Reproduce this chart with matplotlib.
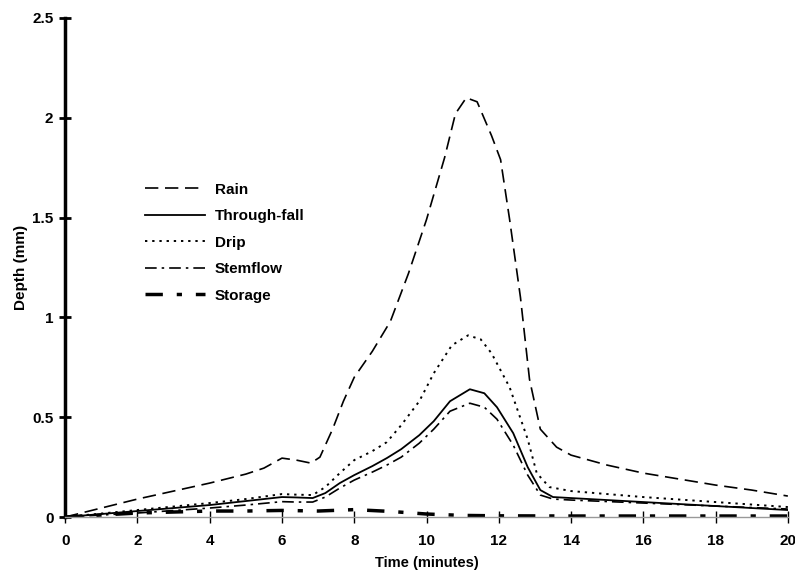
import matplotlib.pyplot as plt

plt.rcParams['font.family'] = ['Liberation Sans', 'DejaVu Sans']
plt.rcParams['font.weight'] = 'bold'

# Readings (time in minutes, depth in mm)
rain_t = [0, 1, 2, 3, 4, 5, 5.5, 6, 6.4, 6.8, 7.05, 7.4, 7.7, 8, 8.5, 9, 9.5, 10,
          10.5, 10.8, 11.1, 11.4, 11.8, 12.05, 12.3, 12.6, 12.85, 13.15, 13.6, 14,
          15, 16, 17, 18, 19, 20]
rain = [0, 0.045, 0.09, 0.13, 0.17, 0.215, 0.245, 0.295, 0.285, 0.27, 0.30, 0.44,
        0.58, 0.70, 0.83, 0.98, 1.22, 1.49, 1.80, 2.02, 2.10, 2.08, 1.91, 1.79, 1.49,
        1.10, 0.69, 0.44, 0.35, 0.31, 0.26, 0.22, 0.19, 0.16, 0.135, 0.105]

drip_t = [0, 2, 4, 5, 6, 6.4, 6.85, 7.2, 7.6, 8, 8.5, 8.9, 9.3, 9.8, 10.2, 10.7,
          11.15, 11.5, 11.8, 12.3, 12.8, 13.05, 13.4, 14, 16, 18, 20]
drip = [0, 0.035, 0.07, 0.09, 0.115, 0.112, 0.11, 0.15, 0.22, 0.285, 0.33, 0.375,
        0.46, 0.58, 0.72, 0.86, 0.91, 0.89, 0.82, 0.65, 0.39, 0.22, 0.15, 0.13, 0.10,
        0.075, 0.05]

sub_t = [0, 2, 4, 5, 6, 6.4, 6.85, 7.2, 7.6, 8, 8.5, 8.9, 9.3, 9.8, 10.2, 10.65,
         11.2, 11.6, 11.95, 12.4, 12.8, 13.15, 13.5, 14, 16, 18, 20]
throughfall = [0, 0.03, 0.06, 0.08, 0.10, 0.098, 0.095, 0.12, 0.17, 0.21, 0.255,
               0.295, 0.34, 0.41, 0.48, 0.58, 0.64, 0.62, 0.55, 0.42, 0.25, 0.135,
               0.10, 0.095, 0.075, 0.055, 0.035]
stemflow = [0, 0.02, 0.045, 0.06, 0.077, 0.075, 0.075, 0.10, 0.145, 0.185, 0.225,
            0.26, 0.30, 0.37, 0.44, 0.53, 0.57, 0.55, 0.49, 0.36, 0.21, 0.11, 0.09,
            0.085, 0.07, 0.055, 0.04]

storage_t = [0, 1, 2, 3, 4, 5, 6, 7, 8, 9, 10, 11, 12, 14, 16, 20]
storage = [0, 0.01, 0.02, 0.025, 0.03, 0.03, 0.033, 0.03, 0.037, 0.028, 0.015,
           0.008, 0.006, 0.005, 0.005, 0.005]

fig = plt.figure(figsize=(7.95, 5.73), dpi=100)
ax = fig.add_axes([0.082, 0.0977, 0.909, 0.871])

ax.plot(rain_t, rain, color='black', lw=1.2, dashes=(8, 4), label='Rain')
ax.plot(sub_t, throughfall, color='black', lw=1.3, label='Through-fall')
ax.plot(drip_t, drip, color='black', lw=1.4, dashes=(1.2, 2.5), label='Drip')
ax.plot(sub_t, stemflow, color='black', lw=1.2, dashes=(7, 3, 1.5, 3), label='Stemflow')
ax.plot(storage_t, storage, color='black', lw=2.5, dashes=(5, 4, 1.5, 4), label='Storage')

ax.set_xlim(0, 20)
ax.set_ylim(0, 2.5)
ax.set_xticks(range(0, 21, 2))
ax.set_yticks([0, 0.5, 1, 1.5, 2, 2.5])
ax.set_yticklabels(['0', '0.5', '1', '1.5', '2', '2.5'])

for s in ['top', 'right']:
    ax.spines[s].set_visible(False)
ax.spines['left'].set_linewidth(2.5)
ax.spines['bottom'].set_color('#999999')
ax.spines['bottom'].set_linewidth(1)
ax.tick_params(axis='y', direction='inout', length=9, width=2, labelsize=11, pad=4)
ax.tick_params(axis='x', direction='inout', length=8, width=1, colors='black',
               labelsize=11, pad=8)

ax.set_xlabel('Time (minutes)', fontsize=10.5, fontweight='bold', labelpad=6)
ax.set_ylabel('Depth (mm)', fontsize=11, fontweight='bold', labelpad=3)

ax.legend(loc='upper left', bbox_to_anchor=(0.111, 0.67), frameon=False,
          fontsize=11, handlelength=3.9, handletextpad=0.65, labelspacing=0.82,
          borderpad=0, borderaxespad=0)

fig.savefig('out.png', dpi=100)
